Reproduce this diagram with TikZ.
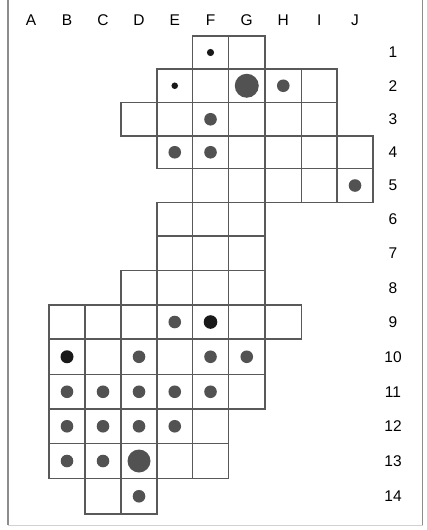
\documentclass[tikz,border=0pt]{standalone}
\usepackage{fontspec}
\setmainfont{Liberation Sans}
\begin{document}
\begin{tikzpicture}[x=1pt,y=-1pt,
  gridline/.style={draw=black!65,line width=1.2pt},
  framel/.style={draw=black!45,line width=1.6pt},
  lab/.style={font=\fontsize{15.5}{18}\selectfont,text=black,inner sep=0pt,anchor=center},
  dotm/.style={fill=black!68},
  dotb/.style={fill=black!90}]
\useasboundingbox (0,0) rectangle (426,530);
\def\xs{{13,49,85,121,157,192.5,228.5,265,301.5,337,373}}
\def\ys{{36,69,102.5,136,168.5,202.5,236,270.5,305,339,374.5,409,443.5,478.5,514}}
% frame
\draw[framel] (8,0) -- (8,525);
\draw[framel] (422.5,0) -- (422.5,525);
\draw[draw=black!18,line width=1pt] (8,525) -- (422.5,525);
% cells
\foreach \r/\ca/\cb in {1/6/7,2/5/9,3/4/9,4/5/10,5/6/10,6/5/7,7/5/7,8/4/7,9/2/8,10/2/7,11/2/7,12/2/6,13/2/6,14/3/4}{
  \foreach \c in {\ca,...,\cb}{
    \pgfmathsetmacro\xa{\xs[\c-1]}
    \pgfmathsetmacro\xb{\xs[\c]}
    \pgfmathsetmacro\ya{\ys[\r-1]}
    \pgfmathsetmacro\yb{\ys[\r]}
    \draw[gridline] (\xa,\ya) rectangle (\xb,\yb);
  }
}
% column labels
\foreach \l/\i in {A/1,B/2,C/3,D/4,E/5,F/6,G/7,H/8,I/9,J/10}{
  \pgfmathsetmacro\xa{\xs[\i-1]}
  \pgfmathsetmacro\xb{\xs[\i]}
  \pgfmathsetmacro\xm{(\xa+\xb)/2}
  \node[lab] (col\l) at (\xm,20) {\l};
}
% row labels
\foreach \r in {1,...,14}{
  \pgfmathsetmacro\ya{\ys[\r-1]}
  \pgfmathsetmacro\yb{\ys[\r]}
  \pgfmathsetmacro\ym{(\ya+\yb)/2}
  \node[lab] (row\r) at (393,\ym) {\r};
}
% dots
\foreach \c/\r/\rad/\st in {6/1/3.6/dotb,5/2/3.3/dotb,7/2/12/dotm,8/2/6.3/dotm,6/3/6.3/dotm,
  5/4/6.3/dotm,6/4/6.3/dotm,10/5/6.3/dotm,5/9/6.3/dotm,6/9/6.8/dotb,
  2/10/6.5/dotb,4/10/6.3/dotm,6/10/6.3/dotm,7/10/6.3/dotm,
  2/11/6.3/dotm,3/11/6.3/dotm,4/11/6.3/dotm,5/11/6.3/dotm,6/11/6.3/dotm,
  2/12/6.3/dotm,3/12/6.3/dotm,4/12/6.3/dotm,5/12/6.3/dotm,
  2/13/6.3/dotm,3/13/6.3/dotm,4/13/11.5/dotm,4/14/6.3/dotm}{
  \pgfmathsetmacro\xa{\xs[\c-1]}
  \pgfmathsetmacro\xb{\xs[\c]}
  \pgfmathsetmacro\ya{\ys[\r-1]}
  \pgfmathsetmacro\yb{\ys[\r]}
  \pgfmathsetmacro\xm{(\xa+\xb)/2}
  \pgfmathsetmacro\ym{(\ya+\yb)/2}
  \fill[\st] (\xm,\ym) circle[radius=\rad];
}
\end{tikzpicture}
\end{document}
